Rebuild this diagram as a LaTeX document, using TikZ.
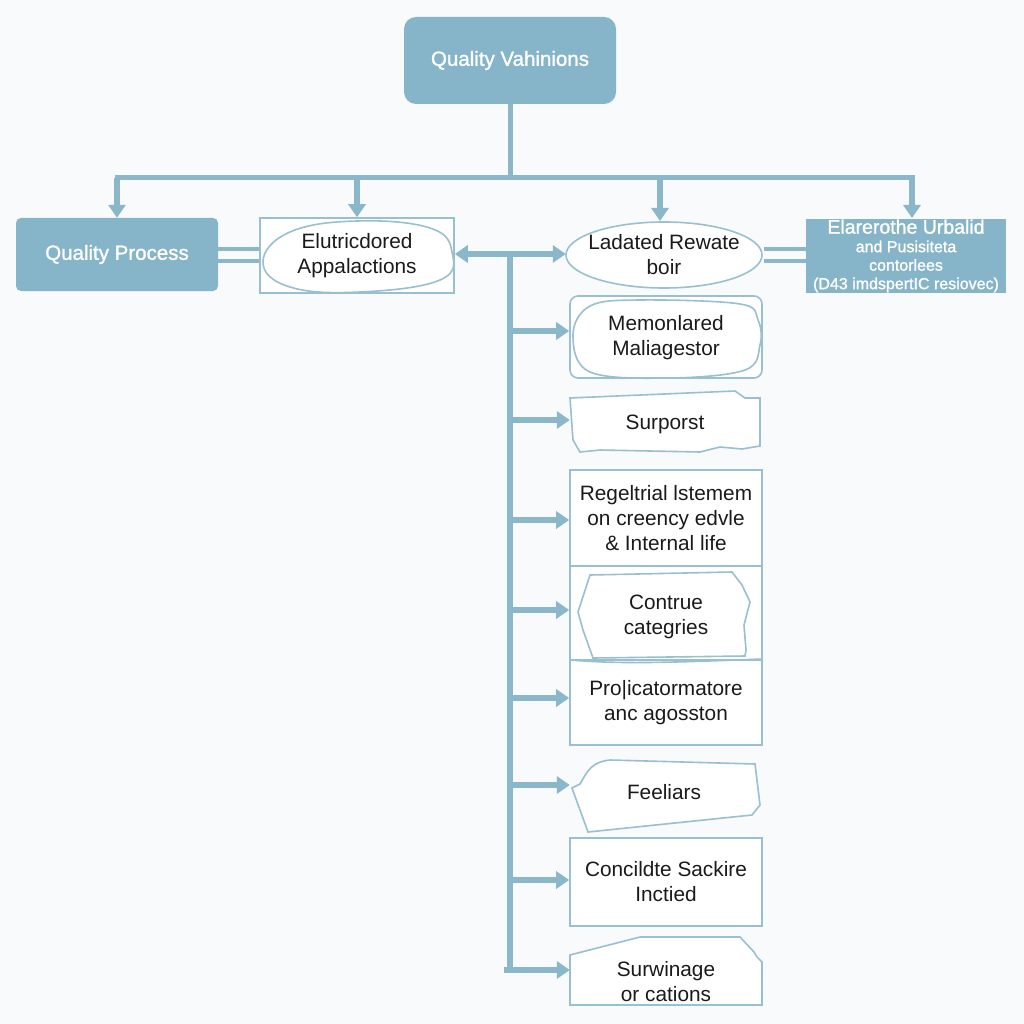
\documentclass[tikz,border=0pt]{standalone}
\usepackage{fontspec}
\setmainfont{Liberation Sans}
\newfontfamily\semib[FakeBold=1.3]{Liberation Sans}
\usetikzlibrary{arrows.meta,shapes.geometric}
\definecolor{fc}{HTML}{86B4C8}
\definecolor{lc}{HTML}{8AB7CA}
\definecolor{oc}{HTML}{98C0D0}
\definecolor{bgc}{HTML}{F8FAFB}
\definecolor{tc}{HTML}{1A1A1A}
\tikzset{
  ln/.style={draw=lc, line width=5pt},
  arr/.style={draw=lc, line width=5.5pt, -{Triangle[width=17pt,length=13pt]}},
  fbox/.style={fill=fc, draw=none, text=white, align=center, inner sep=0pt},
  obox/.style={draw=oc, line width=1.6pt, fill=white, align=center, inner sep=0pt},
  ghost/.style={draw=none, align=center, inner sep=0pt},
  wob/.style={draw=oc, line width=1.6pt, fill=white},
  txt/.style={font=\fontsize{20.8}{25}\selectfont, text=tc},
  wtxt/.style={font=\semib\fontsize{20.5}{24}\selectfont}
}
\begin{document}
\begin{tikzpicture}[x=1pt,y=-1pt]
\useasboundingbox (0,0) rectangle (1024,1024);
\fill[bgc] (0,0) rectangle (1024,1024);

% top node
\node[fbox, wtxt, rounded corners=12pt, minimum width=212pt, minimum height=87pt] (top) at (510,60.5) {Quality Vahinions};

% second row
\node[fbox, wtxt, rounded corners=5pt, minimum width=202pt, minimum height=73pt] (qp) at (117,254.5) {Quality Process};
\node[obox, minimum width=194pt, minimum height=75pt] (elut) at (357,255.5) {};
\draw[oc, line width=1.6pt, fill=white] plot[smooth cycle, tension=0.7] coordinates {(263,262) (290,232) (357,221) (430,228) (452,252) (440,280) (360,292) (290,287)};
\node[ghost, txt] (elutt) at (357,256) {Elutricdored\\Appalactions};
\draw[oc, line width=1.6pt, fill=white] (664,255) ellipse [x radius=98, y radius=33];
\node[ghost, txt, minimum width=196pt, minimum height=66pt] (lad) at (664,255) {Ladated Rewate\\boir};
\node[fbox, font=\semib\fontsize{16}{18.5}\selectfont, minimum width=200pt, minimum height=74pt] (rb) at (906,256) {{\fontsize{19.5}{20}\selectfont Elarerothe Urbalid}\\and Pusisiteta\\contorlees\\(D43 imdspertIC resiovec)};

% hub lines
\coordinate (hub) at (510,178);
\coordinate (hl) at (117,178);
\coordinate (hr) at (912,178);
\coordinate (b0) at (510,254);
\coordinate (bend) at (510,970);
\draw[ln] (top.south) -- (hub);
\draw[ln, line cap=rect] (hl) -- (hr);
\draw[arr] (hl) -- (qp.north);
\draw[arr] (hub -| elut.north) -- (elut.north);
\draw[arr] (660,178) -- (660,221);
\draw[arr] (hr) -- (912,218);

% double links
\draw[lc, line width=3.5pt] (qp.east |- 0,249) -- (elut.west |- 0,249);
\draw[lc, line width=3.5pt] (qp.east |- 0,261) -- (elut.west |- 0,261);
\draw[lc, line width=3.5pt] (764,249) -- (rb.west |- 0,249);
\draw[lc, line width=3.5pt] (764,261) -- (rb.west |- 0,261);

% right column nodes
\node[obox, rounded corners=8pt, minimum width=192pt, minimum height=82pt] (mem) at (666,337) {};
\draw[oc, line width=1.6pt] plot[smooth cycle, tension=0.6] coordinates {(573,335) (590,306) (640,300) (740,304) (758,320) (760,345) (745,370) (670,378) (590,372)};
\node[ghost, txt] (memt) at (666,338) {Memonlared\\Maliagestor};

\node[ghost, minimum width=190pt, minimum height=60pt] (sur) at (665,421) {};
\draw[wob] (570,398) -- (735,391) -- (745,398) -- (760,398) -- (760,446) -- (742,449) -- (720,447) -- (700,452) -- (600,450) -- (580,452) -- (573,440) -- cycle;
\node[ghost, txt] (surt) at (665,424) {Surporst};

\node[obox, txt, minimum width=192pt, minimum height=96pt] (reg) at (666,518) {Regeltrial lstemem\\on creency edvle\\\& Internal life};
\node[obox, minimum width=192pt, minimum height=94pt] (con) at (666,613) {};
\draw[oc, line width=1.6pt] (590,575) -- (732,572) -- (742,585) -- (750,602) -- (744,625) -- (746,650) -- (745,656) -- (593,658) -- (583,630) -- (578,612) -- cycle;
\node[ghost, txt] (cont) at (666,617) {Contrue\\categries};
\node[obox, txt, minimum width=192pt, minimum height=85pt] (pro) at (666,702.5) {Pro|icatormatore\\anc agosston};
\draw[oc, line width=1.6pt] (570,660) .. controls (620,664) and (660,663) .. (762,659);

\node[ghost, minimum width=190pt, minimum height=70pt] (fee) at (665,792) {};
\draw[wob] (572,788) -- (580,784) .. controls (588,770) and (592,762) .. (610,760) -- (755,764) -- (760,805) -- (752,815) -- (588,832) -- cycle;
\node[ghost, txt] (feet) at (664,792) {Feeliars};

\node[obox, txt, minimum width=192pt, minimum height=88pt] (cond) at (666,882) {Concildte Sackire\\Inctied};

\node[ghost, minimum width=192pt, minimum height=70pt] (surw) at (666,975) {};
\draw[wob] (570,1005) -- (570,955) -- (640,937) -- (740,937) -- (754,952) -- (757,957) -- (762,962) -- (762,1005) -- cycle;
\node[ghost, txt] (surwt) at (666,982) {Surwinage\\or cations};

% main spine
\draw[draw=lc, line width=5.5pt, {Triangle[width=17pt,length=13pt]}-{Triangle[width=17pt,length=13pt]}] (elut.east |- b0) -- (lad.west |- b0);
\draw[draw=lc, line width=6pt] (b0) -- (bend);
\draw[arr] (510,331) -- (mem.west |- 0,331);
\draw[arr] (510,420) -- (sur.west |- 0,420);
\draw[arr] (510,520) -- (reg.west |- 0,520);
\draw[arr] (510,610) -- (con.west |- 0,610);
\draw[arr] (510,698) -- (pro.west |- 0,698);
\draw[arr] (510,785) -- (fee.west |- 0,785);
\draw[arr] (510,880) -- (cond.west |- 0,880);
\draw[arr, line cap=rect] ([xshift=-3pt]bend) -- (surw.west |- bend);
\end{tikzpicture}
\end{document}
